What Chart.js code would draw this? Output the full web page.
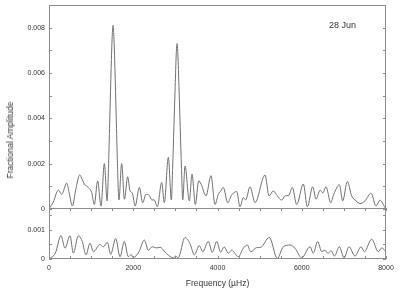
<!DOCTYPE html>
<html>
<head>
<meta charset="utf-8">
<script src="https://cdn.jsdelivr.net/npm/chart.js"></script>
<style>
  body { margin: 0; background: #fff; }
  #wrap { position: relative; width: 400px; height: 289px; font-family: "Liberation Sans", Arial, sans-serif; color: #333; }
  canvas { position: absolute; left: 0; }
  #topChart { top: 0; z-index: 2; }
  #bottomChart { top: 208px; z-index: 1; }
  #ylabel { position: absolute; left: 10px; top: 140px; font-size: 8.5px; white-space: nowrap; z-index: 3;
            transform: translate(-50%, -50%) rotate(-90deg); }
  #date { position: absolute; left: 329px; top: 20px; font-size: 9px; z-index: 3; }
</style>
</head>
<body>
<div id="wrap">
  <canvas id="topChart" width="400" height="216"></canvas>
  <canvas id="bottomChart" width="400" height="81"></canvas>
  <div id="ylabel">Fractional Amplitude</div>
  <div id="date">28 Jun</div>
</div>
<script>
// upper panel: amplitude spectrum (frequency in µHz)
const freqTop = [0, 100, 221, 301, 420, 480, 553, 640, 728, 790, 839, 934, 1013, 1076, 1155, 1235, 1314,
  1380, 1415, 1445, 1475, 1500, 1520, 1540, 1565, 1595, 1625, 1660,
  1725, 1790, 1868, 1923, 1980, 2045, 2145, 2224, 2303, 2382, 2440, 2500, 2572, 2675, 2738, 2833,
  2905, 2935, 2965, 2995, 3020, 3040, 3060, 3085, 3115, 3145, 3175,
  3229, 3332, 3395, 3474, 3554, 3610, 3727, 3846, 3941, 4020, 4080, 4138, 4242, 4337, 4456, 4534,
  4613, 4669, 4772, 4891, 5128, 5223, 5325, 5420, 5524, 5603, 5690, 5777, 5880, 6038, 6133, 6260,
  6339, 6434, 6500, 6576, 6688, 6760, 6893, 6972, 7082, 7185, 7288, 7383, 7502, 7644, 7763, 7858, 7977, 8000];
const ampTop = [0, 0.0003, 0.00083, 0.00065, 0.00114, 0.0007, 0.00013, 0.0009, 0.0015, 0.0013, 0.0011, 0.00095, 0.00073, 0.0002, 0.00124, 0.00013, 0.002,
  0.00036, 0.002, 0.0041, 0.0062, 0.0076, 0.0081, 0.0076, 0.0062, 0.0041, 0.002, 0.0004,
  0.002, 0.00043, 0.00142, 0.0008, 0.0007, 0.00013, 0.00095, 0.00028, 0.00065, 0.0006, 0.0004, 0.0004, 0.0001, 0.00117, 0.00028, 0.00228,
  0.0004, 0.0018, 0.0036, 0.0054, 0.0068, 0.0073, 0.0068, 0.0054, 0.0036, 0.0018, 0.0004,
  0.0019, 0.00036, 0.00154, 0.0002, 0.00124, 0.0011, 0.00058, 0.00147, 0.0002, 0.00065, 0.0008, 0.00095, 0.00028, 0.00062, 0.00077, 0.0001,
  0.0005, 0.0004, 0.00098, 0.00028, 0.0015, 0.00058, 0.0008, 0.00058, 0.00039, 0.00058, 0.0006, 0.00095, 0.0002, 0.0011, 0.0001, 0.00098,
  0.00043, 0.00083, 0.00071, 0.00098, 0.00028, 0.00065, 0.00107, 0.00036, 0.00121, 0.00058, 0.00036, 0.00024, 0.00036, 0.0007, 0.00013, 0.00039, 0.00006, 0];

// lower panel: residual spectrum
const freqBottom = [0, 150, 285, 380, 499, 578, 697, 790, 878, 973, 1052, 1211, 1290, 1385, 1464, 1583, 1686, 1788, 1883, 1950, 2000,
  2137, 2263, 2358, 2453, 2548, 2635, 2793, 2951, 3010, 3065, 3229, 3347, 3450, 3568, 3649, 3782, 3877, 3981, 4076, 4155, 4257,
  4337, 4494, 4613, 4708, 4788, 4930, 5025, 5230, 5420, 5562, 5721, 5840, 5998, 6196, 6275, 6378, 6474, 6550, 6620, 6700, 6774,
  6893, 7004, 7122, 7264, 7407, 7486, 7660, 7818, 7898, 8000];
const ampBottom = [0, 0.0002, 0.0008, 0.00037, 0.0008, 0.0002, 0.0008, 0.0006, 0.00014, 0.00054, 0.00025, 0.0005, 0.00042, 0.00057, 0.00016, 0.0007, 0.00008, 0.0006, 0.00008, 0.00015, 0.00005,
  0.00025, 0.00065, 0.0003, 0.00042, 0.00038, 0.0004, 0.00018, 0.00004, 0.0001, 0.00004, 0.00074, 0.00053, 0.00014, 0.00046, 0.00025, 0.0006, 0.00023, 0.0006, 0.00023, 0.00042, 0.0002,
  0.0003, 0.00008, 0.00037, 0.00048, 0.00025, 0.00039, 0.0004, 0.00074, 0.00002, 0.00042, 0.00048, 0.00037, 0.00004, 0.00042, 0.0002, 0.0006, 0.00025, 0.0003, 0.0002, 0.00028, 0.0001,
  0.00042, 0.00004, 0.00042, 0.0001, 0.00042, 0.00025, 0.00068, 0.00025, 0.00038, 0.00025];

const xTickLabels = [0, 2000, 4000, 6000, 8000];
const topTickLabels = [0, 0.002, 0.004, 0.006, 0.008];
const bottomTickLabels = [0, 0.001];

const tickFont = { family: '"Liberation Sans", Arial, sans-serif', size: 7 };
const lineColor = '#707070';

const toPoints = (xs, ys) => xs.map((x, i) => ({ x, y: ys[i] }));
const fmt = v => (v === 0 ? '0' : v.toFixed(3));
const hasLabel = (list, v) => list.some(l => Math.abs(l - v) < 1e-9);

// fixed axis sizes, no extra room for the end labels
const fixY = s => { s.width = 49; s.paddingTop = 0; s.paddingBottom = 0; };
const fixX = s => { s.height = 30; s.paddingLeft = 0; s.paddingRight = 0; };

// box around the plot area plus inward tick marks
const frame = {
  id: 'frame',
  afterDraw(chart, args, opts) {
    const { ctx, chartArea: a } = chart;
    ctx.save();
    ctx.strokeStyle = '#8c8c8c';
    ctx.lineWidth = 1;
    ctx.strokeRect(a.left + 0.5, a.top + 0.5, a.right - a.left - 1, a.bottom - a.top - 1);
    ctx.beginPath();
    const ys = chart.scales.y;
    ys.ticks.forEach(t => {
      const p = Math.round(ys.getPixelForValue(t.value)) + 0.5;
      ctx.moveTo(a.left, p); ctx.lineTo(a.left + 3, p);
      ctx.moveTo(a.right, p); ctx.lineTo(a.right - 3, p);
    });
    if (opts.xTicks) {
      const xs = chart.scales.x;
      xs.ticks.forEach(t => {
        const p = Math.round(xs.getPixelForValue(t.value)) + 0.5;
        ctx.moveTo(p, a.top); ctx.lineTo(p, a.top + 3);
        ctx.moveTo(p, a.bottom); ctx.lineTo(p, a.bottom - 3);
      });
    }
    ctx.stroke();
    ctx.restore();
  }
};

const dataset = (xs, ys) => ({
  data: toPoints(xs, ys),
  borderColor: lineColor,
  borderWidth: 1,
  pointRadius: 0,
  cubicInterpolationMode: 'monotone',
  fill: false
});

new Chart(document.getElementById('topChart'), {
  type: 'line',
  data: { datasets: [dataset(freqTop, ampTop)] },
  options: {
    responsive: false,
    animation: false,
    layout: { padding: { top: 5, right: 14, bottom: 7, left: 0 } },
    plugins: { legend: { display: false }, tooltip: { enabled: false }, frame: { xTicks: false } },
    scales: {
      x: { type: 'linear', min: 0, max: 8000, display: false },
      y: {
        min: 0, max: 0.009,
        afterFit: fixY,
        border: { display: false },
        grid: { display: false, drawTicks: false },
        ticks: {
          stepSize: 0.001, padding: 4, color: '#333', font: tickFont,
          callback: v => (hasLabel(topTickLabels, v) ? fmt(v) : '')
        }
      }
    }
  },
  plugins: [frame]
});

new Chart(document.getElementById('bottomChart'), {
  type: 'line',
  data: { datasets: [dataset(freqBottom, ampBottom)] },
  options: {
    responsive: false,
    animation: false,
    layout: { padding: { top: 0, right: 14, bottom: 0, left: 0 } },
    plugins: { legend: { display: false }, tooltip: { enabled: false }, frame: { xTicks: true } },
    scales: {
      x: {
        type: 'linear', min: 0, max: 8000,
        afterFit: fixX,
        border: { display: false },
        grid: { display: false, drawTicks: false },
        ticks: {
          stepSize: 500, autoSkip: false, maxRotation: 0, padding: 5, color: '#333', font: tickFont,
          callback: v => (hasLabel(xTickLabels, v) ? String(v) : '')
        },
        title: {
          display: true, text: 'Frequency (µHz)', color: '#333',
          font: { family: '"Liberation Sans", Arial, sans-serif', size: 8.5 },
          padding: { top: 3, bottom: 0 }
        }
      },
      y: {
        min: 0, max: 0.00175,
        afterFit: fixY,
        border: { display: false },
        grid: { display: false, drawTicks: false },
        ticks: {
          stepSize: 0.0005, padding: 4, color: '#333', font: tickFont,
          callback: v => (hasLabel(bottomTickLabels, v) ? fmt(v) : '')
        }
      }
    }
  },
  plugins: [frame]
});
</script>
</body>
</html>
